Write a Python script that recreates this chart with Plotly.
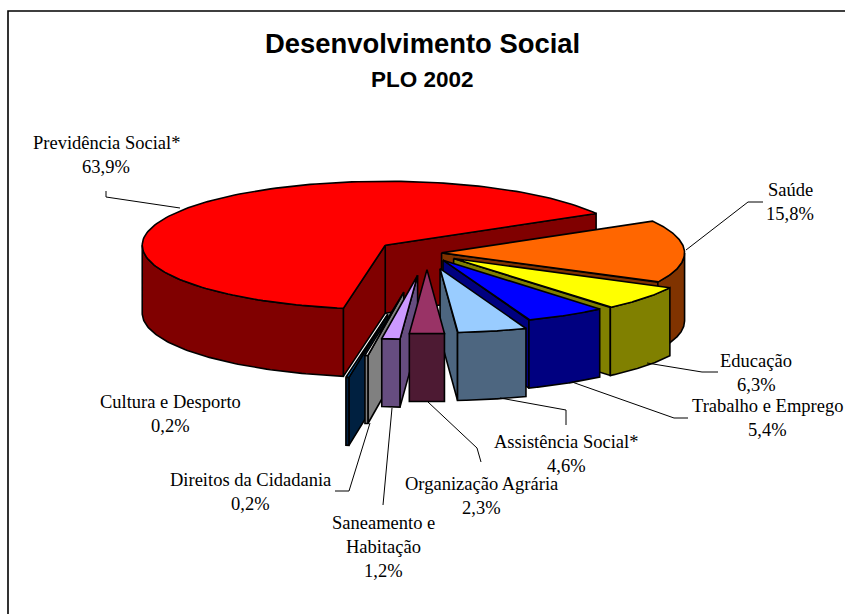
import numpy as np
import plotly.graph_objects as go

# ---- data
categories = ["Previdência Social*", "Cultura e Desporto", "Direitos da Cidadania", "Saneamento e Habitação",
              "Organização Agrária", "Assistência Social*", "Trabalho e Emprego", "Educação", "Saúde"]
shares = [63.9, 0.2, 0.2, 1.2, 2.3, 4.6, 5.4, 6.3, 15.8]
share_labels = ["63,9%", "0,2%", "0,2%", "1,2%", "2,3%", "4,6%", "5,4%", "6,3%", "15,8%"]
explode = [0.21, 0.97, 0.62, 0.35, 0.26, 0.25, 0.13, 0.14, 0.06]
top_colors = ["#FF0000", "#005CA8", "#FFFFFF", "#CC99FF", "#993366", "#99CCFF", "#0000FF", "#FFFF00", "#FF6600"]
side_colors = ["#800000", "#002040", "#808080", "#664D80", "#4D1A33", "#4D6680", "#000080", "#808000", "#803300"]
paint_order = [0, 8, 7, 6, 5, 1, 2, 3, 4]

# ---- pie geometry (canvas pixels)
CX, CY, RX, RY, DEPTH = 427, 253, 243, 64, 68
START = 29.8
LW = 1.6

fig = go.Figure()


def poly(xs, ys, fill):
    fig.add_trace(go.Scatter(x=xs, y=ys, mode="lines", fill="toself", fillcolor=fill,
                             line=dict(color="black", width=LW), hoverinfo="skip", showlegend=False))


total = sum(shares)
sweeps = [s / total * 360 for s in shares]
starts = START + np.concatenate([[0], np.cumsum(sweeps)[:-1]])

for i in paint_order:
    t0, t1 = starts[i], starts[i] + sweeps[i]
    mid = np.radians((t0 + t1) / 2)
    ax = CX + explode[i] * RX * np.cos(mid)
    ay = CY - explode[i] * RY * np.sin(mid)

    def rim(deg):
        r = np.radians(deg)
        return ax + RX * np.cos(r), ay - RY * np.sin(r)

    # cut faces
    for t, vis in ((t0, np.cos(np.radians(t0)) > 0), (t1, np.cos(np.radians(t1)) < 0)):
        if vis:
            x, y = rim(t)
            poly([ax, x, x, ax, ax], [ay, y, y + DEPTH, ay + DEPTH, ay], side_colors[i])
    # outer wall: the part of the rim on the viewer's side
    lo, hi = max(t0, 180), min(t1, 360)
    if hi > lo:
        th = np.linspace(lo, hi, 80)
        x, y = rim(th)
        poly(np.r_[x, x[::-1], x[0]], np.r_[y, y[::-1] + DEPTH, y[0]], side_colors[i])
    # top face
    th = np.linspace(t0, t1, 160)
    x, y = rim(th)
    poly(np.r_[ax, x, ax], np.r_[ay, y, ay], top_colors[i])

# ---- leader lines
leaders = [
    ([106, 106, 180], [191, 197, 208]),
    ([763, 748, 686], [202, 202, 250]),
    ([718, 702, 647], [372, 372, 363]),
    ([688, 674, 572], [418, 418, 382]),
    ([566, 566, 500], [425, 410, 398]),
    ([481, 477, 428], [462, 448, 402]),
    ([383, 392], [505, 408]),
    ([335, 349, 370], [491, 491, 423]),
]
for xs, ys in leaders:
    fig.add_trace(go.Scatter(x=xs, y=ys, mode="lines", line=dict(color="black", width=1),
                             hoverinfo="skip", showlegend=False))

# ---- labels
label_pos = {
    0: (106, 143, ["Previdência Social*"]),
    8: (790, 190, ["Saúde"]),
    7: (756, 361, ["Educação"]),
    6: (767, 406, ["Trabalho e Emprego"]),
    5: (566, 442, ["Assistência Social*"]),
    4: (481, 484, ["Organização Agrária"]),
    3: (383, 523, ["Saneamento e", "Habitação"]),
    2: (250, 480, ["Direitos da Cidadania"]),
    1: (170, 402, ["Cultura e Desporto"]),
}
ann = []


def text(x, y, s, size, family, bold=False):
    ann.append(dict(x=x, y=y, xref="x", yref="y", text=f"<b>{s}</b>" if bold else s, showarrow=False,
                    xanchor="center", yanchor="middle", font=dict(family=family, size=size, color="black")))


SERIF = "Liberation Serif"
SANS = "Liberation Sans"
for i, (x, y, lines) in label_pos.items():
    for k, s in enumerate(lines + [share_labels[i]]):
        text(x, y + 24 * k, s, 18.5, SERIF)
text(422, 43, "Desenvolvimento Social", 27.4, SANS, True)
text(422, 79, "PLO 2002", 22.5, SANS, True)

fig.update_layout(
    width=845, height=614, margin=dict(l=0, r=0, t=0, b=0),
    paper_bgcolor="white", plot_bgcolor="white", showlegend=False,
    xaxis=dict(range=[0, 845], visible=False, fixedrange=True),
    yaxis=dict(range=[614, 0], visible=False, fixedrange=True),
    annotations=ann,
    shapes=[dict(type="rect", xref="x", yref="y", x0=8, y0=11, x1=860, y1=640,
                 line=dict(color="black", width=1.6), fillcolor="rgba(0,0,0,0)", layer="below")],
)
fig.write_html("out.html", config=dict(displayModeBar=False),
               post_script="document.body.style.margin='0';document.body.style.overflow='hidden';")
